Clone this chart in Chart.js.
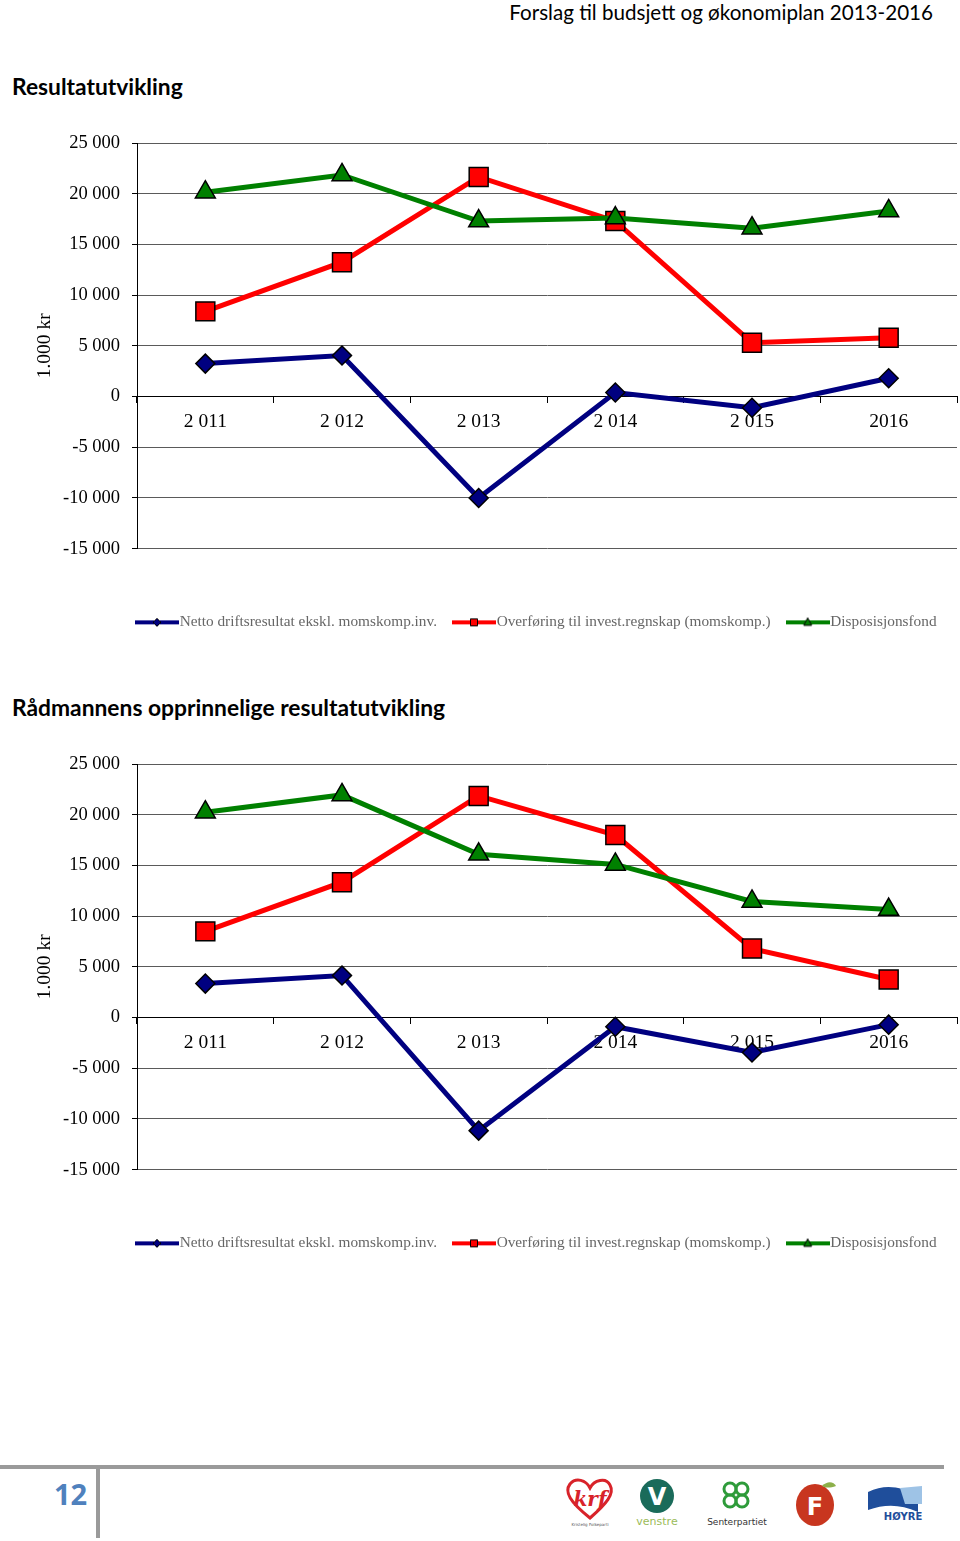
<!DOCTYPE html>
<html>
<head>
<meta charset="utf-8">
<script src="https://cdn.jsdelivr.net/npm/chart.js@4"></script>
<style>
  body { margin:0; width:960px; height:1541px; background:#fff; position:relative; overflow:hidden; font-family:Lato, "Open Sans", sans-serif; }
  .hdr { position:absolute; top:0; right:27px; font-size:20.6px; color:#000; line-height:24px; }
  .ttl { position:absolute; left:12px; font-size:22.8px; font-weight:bold; color:#000; line-height:26px; }
  canvas.ch { position:absolute; left:0; }
  .hline { position:absolute; left:0; top:1465px; width:944px; height:4px; background:#9a9a9a; }
  .vline { position:absolute; left:96px; top:1465px; width:4px; height:73px; background:#9a9a9a; }
  .pg { position:absolute; left:54px; top:1474px; font-size:29px; font-weight:bold; color:#4f81bd; font-family:"Open Sans", sans-serif; }
  .logos { position:absolute; left:560px; top:1474px; }
</style>
</head>
<body>
<div class="hdr">Forslag til budsjett og økonomiplan 2013-2016</div>
<div class="ttl" style="top:73px">Resultatutvikling</div>
<canvas id="c1" class="ch" width="960" height="515" style="top:125px"></canvas>
<div class="ttl" style="top:694px">Rådmannens opprinnelige resultatutvikling</div>
<canvas id="c2" class="ch" width="960" height="515" style="top:746px"></canvas>

<div class="hline"></div>
<div class="vline"></div>
<div class="pg">12</div>
<svg class="logos" width="380" height="62" viewBox="0 0 380 62">
  <!-- KrF -->
  <path d="M30 44 C10 28 4 18 10 10 C16 3 26 6 30 14 C34 6 46 3 50 11 C55 20 46 30 30 44 Z" fill="none" stroke="#d8232a" stroke-width="3"/>
  <text x="30" y="32" font-family="DejaVu Serif" font-style="italic" font-weight="bold" font-size="20" fill="#d8232a" text-anchor="middle">krf</text>
  <text x="30" y="52" font-size="4" fill="#555" text-anchor="middle" font-family="DejaVu Sans">Kristelig Folkeparti</text>
  <!-- Venstre -->
  <circle cx="97" cy="22" r="17" fill="#1a6b5a"/>
  <text x="97" y="31" font-family="DejaVu Sans" font-weight="bold" font-size="24" fill="#fff" text-anchor="middle">V</text>
  <text x="97" y="51" font-family="DejaVu Sans" font-size="11" fill="#9bbb59" text-anchor="middle">venstre</text>
  <!-- Senterpartiet -->
  <g fill="none" stroke="#2e9b3a" stroke-width="3">
    <circle cx="170" cy="15" r="6"/><circle cx="182" cy="15" r="6"/>
    <circle cx="170" cy="27" r="6"/><circle cx="182" cy="27" r="6"/>
  </g>
  <text x="177" y="51" font-family="DejaVu Sans" font-size="9" fill="#333" text-anchor="middle">Senterpartiet</text>
  <!-- FrP -->
  <ellipse cx="255" cy="31" rx="19" ry="21" fill="#c8361f"/>
  <path d="M262 12 C268 6 274 8 276 12 C270 14 266 14 262 12 Z" fill="#8db04a"/>
  <text x="255" y="41" font-family="DejaVu Sans" font-weight="bold" font-size="24" fill="#fff" text-anchor="middle">F</text>
  <!-- Høyre -->
  <path d="M308 18 C325 10 340 12 358 22 L358 38 C340 30 325 30 308 36 Z" fill="#1f4e9b"/>
  <path d="M340 14 L362 12 L362 30 L345 30 Z" fill="#9ec3e6"/>
  <text x="343" y="46" font-family="DejaVu Sans" font-weight="bold" font-size="10" fill="#1f4e9b" text-anchor="middle">HØYRE</text>
</svg>

<script>
// categories and series (1.000 kr)
const years = ['2 011', '2 012', '2 013', '2 014', '2 015', '2016'];
const seriesNames = ['Netto driftsresultat ekskl. momskomp.inv.', 'Overføring til invest.regnskap (momskomp.)', 'Disposisjonsfond'];

const netto1 = [3250, 4050, -10000, 400, -1100, 1800];
const overf1 = [8400, 13250, 21650, 17300, 5300, 5800];
const dispfond1 = [20150, 21850, 17300, 17600, 16600, 18300];

const netto2 = [3350, 4150, -11150, -900, -3450, -700];
const overf2 = [8500, 13350, 21850, 18000, 6800, 3750];
const dispfond2 = [20250, 21950, 16100, 15100, 11450, 10650];

const yTicks = [-15000, -10000, -5000, 0, 5000, 10000, 15000, 20000, 25000];

const SERIF = 'Liberation Serif';
const styles = [
  { color: '#000080', marker: 'rectRot', radius: 9.5 },
  { color: '#ff0000', marker: 'rect', radius: 13.4 },
  { color: '#008000', marker: 'triangle', radius: 11.5 }
];

function fmt(v) {
  const s = String(Math.abs(v)).replace(/\B(?=(\d{3})+(?!\d))/g, ' ');
  return (v < 0 ? '-' : '') + s;
}

// small canvas used as legend symbol: line + marker
function legendIcon(st) {
  const c = document.createElement('canvas');
  c.width = 44; c.height = 14;
  const g = c.getContext('2d');
  g.strokeStyle = st.color; g.lineWidth = 4;
  g.beginPath(); g.moveTo(0, 7); g.lineTo(44, 7); g.stroke();
  g.fillStyle = st.color; g.strokeStyle = '#000'; g.lineWidth = 1;
  g.beginPath();
  if (st.marker === 'rectRot') { g.moveTo(22, 3); g.lineTo(26, 7); g.lineTo(22, 11); g.lineTo(18, 7); g.closePath(); }
  else if (st.marker === 'rect') { g.rect(18.5, 3.5, 7, 7); }
  else { g.moveTo(22, 2.5); g.lineTo(26, 10); g.lineTo(18, 10); g.closePath(); }
  g.fill(); g.stroke();
  return c;
}
const icons = styles.map(legendIcon);

// legend sits a bit right of centre in the original
const legendShift = {
  id: 'legendShift',
  afterLayout(chart) {
    chart.legend.left = 120;
    chart.legend.right = 1200;
  }
};

function makeChart(id, series) {
  new Chart(document.getElementById(id), {
    type: 'line',
    data: {
      labels: years,
      datasets: series.map((d, i) => ({
        label: seriesNames[i],
        data: d,
        order: 3 - i,
        borderColor: styles[i].color,
        backgroundColor: styles[i].color,
        borderWidth: 5,
        pointStyle: styles[i].marker,
        pointRadius: styles[i].radius,
        pointHoverRadius: styles[i].radius,
        pointBackgroundColor: styles[i].color,
        pointBorderColor: '#000',
        pointBorderWidth: 1.5,
        tension: 0,
        clip: false
      }))
    },
    plugins: [legendShift],
    options: {
      responsive: false,
      animation: false,
      layout: { autoPadding: false, padding: { top: 18, right: 3, left: 0, bottom: 0 } },
      plugins: {
        tooltip: { enabled: false },
        legend: {
          position: 'bottom',
          align: 'start',
          title: { display: true, text: '', padding: { top: 32, bottom: 0 }, font: { size: 10 } },
          labels: {
            usePointStyle: true,
            pointStyleWidth: 30,
            padding: 22,
            color: '#000',
            font: { family: SERIF, size: 15.3 },
            generateLabels: chart => chart.data.datasets.map((ds, i) => ({
              text: ds.label, pointStyle: icons[i], datasetIndex: i,
              fillStyle: ds.borderColor, strokeStyle: ds.borderColor, lineWidth: 0, hidden: false
            }))
          }
        }
      },
      scales: {
        x: {
          position: { y: 0 },
          offset: true,
          afterFit: s => { s.paddingLeft = 0; s.paddingRight = 0; },
          grid: { display: true, drawOnChartArea: false, offset: true, tickLength: 6, color: '#000' },
          border: { display: true, color: '#000', width: 1 },
          ticks: { color: '#000', padding: 8, maxRotation: 0, font: { family: SERIF, size: 19.5 } }
        },
        y: {
          min: -15000, max: 25000,
          afterFit: s => { s.width = 137; s.paddingTop = 0; s.paddingBottom = 0; },
          afterBuildTicks: s => { s.ticks = yTicks.map(v => ({ value: v })); },
          grid: { color: '#5a5a5a', lineWidth: 1, tickLength: 5, tickColor: '#000' },
          border: { display: true, color: '#000', width: 1 },
          ticks: { color: '#000', padding: 12, callback: v => fmt(v), font: { family: SERIF, size: 18.5 } },
          title: { display: true, text: '1.000 kr', color: '#000', padding: { top: 33, bottom: 0 }, font: { family: SERIF, size: 19.5 } }
        }
      }
    }
  });
}

makeChart('c1', [netto1, overf1, dispfond1]);
makeChart('c2', [netto2, overf2, dispfond2]);
</script>
</body>
</html>
